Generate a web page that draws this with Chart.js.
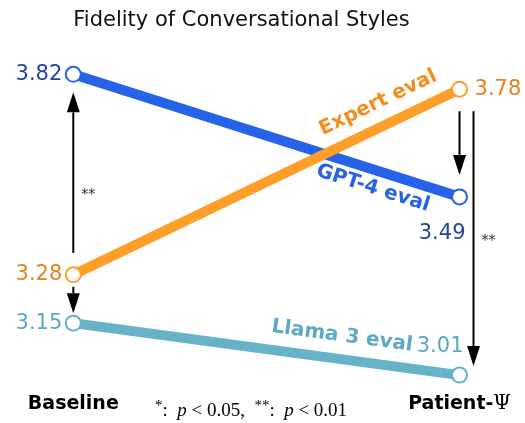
<!DOCTYPE html>
<html lang="en">
<head>
<meta charset="UTF-8">
<title>Fidelity of Conversational Styles</title>
<script src="https://cdn.jsdelivr.net/npm/chart.js"></script>
<style>
    html, body { margin: 0; padding: 0; background: #ffffff; }
</style>
</head>
<body>
<canvas id="chart" width="525" height="423"></canvas>
<script>
    // ---- data ----
    const categories = ['Baseline', 'Patient-Ψ'];
    const seriesNames = ['Expert eval', 'GPT-4 eval', 'Llama 3 eval'];
    const expertScores = [3.28, 3.78];
    const gpt4Scores = [3.82, 3.49];
    const llamaScores = [3.15, 3.01];

    // significance arrows (category index, from value, to value, stars)
    const sigCategory = [0, 0, 1, 1];
    const sigFrom = [3.28, 3.28, 3.78, 3.78];
    const sigTo = [3.82, 3.15, 3.49, 3.01];
    const sigStars = ['**', '', '', '**'];

    // ---- styles ----
    const ORANGE = '#FF9F2A', BLUE = '#2663E8', TEAL = '#67B2C9';
    const lineColors = [ORANGE, BLUE, TEAL];
    const numberColors = ['#E8801C', '#24449C', '#58A8C2'];
    const nameColors = ['#F58D1E', '#2663E8', '#5DAAC4'];
    // where the value labels sit, relative to each point: [align, dx, dy]
    const numberPlace = [
        [['right', -11, 0], ['left', 15, 0]],
        [['right', -11, 0], ['right', 6, 37]],
        [['right', -11, 0], ['right', 4, -29]]
    ];
    // series name along its line: t (0..1 along the line), d (px, + is above)
    const namePlace = [{ t: 0.815, d: 23 }, { t: 0.79, d: -18 }, { t: 0.688, d: 23 }];
    const sigDx = [0, 0, 0, 14];
    const sigStartGap = [22, 12, 22, 22];
    const sigEndGap = [18, 10, 22, 9];
    const sigStarAt = [0.377, 0, 0, 0.5];

    const allSeries = [expertScores, gpt4Scores, llamaScores];

    function toPoints(values) {
        return values.map((v, i) => ({ x: i, y: v }));
    }

    function drawArrow(ctx, x, y0, y1) {
        const dir = y1 > y0 ? 1 : -1;
        const headLen = 20, halfW = 6.5;
        ctx.strokeStyle = '#000';
        ctx.fillStyle = '#000';
        ctx.lineWidth = 2;
        ctx.beginPath();
        ctx.moveTo(x, y0);
        ctx.lineTo(x, y1 - dir * headLen);
        ctx.stroke();
        ctx.beginPath();
        ctx.moveTo(x, y1);
        ctx.lineTo(x - halfW, y1 - dir * headLen);
        ctx.lineTo(x + halfW, y1 - dir * headLen);
        ctx.closePath();
        ctx.fill();
    }

    const annotations = {
        id: 'annotations',
        afterDatasetsDraw(chart) {
            const ctx = chart.ctx;
            const xs = chart.scales.x, ys = chart.scales.y;
            ctx.save();

            // value labels
            ctx.font = '21px "DejaVu Sans"';
            ctx.textBaseline = 'middle';
            allSeries.forEach((vals, s) => {
                vals.forEach((v, i) => {
                    const [align, dx, dy] = numberPlace[s][i];
                    ctx.textAlign = align;
                    ctx.fillStyle = numberColors[s];
                    ctx.fillText(v.toFixed(2), xs.getPixelForValue(i) + dx, ys.getPixelForValue(v) + dy);
                });
            });

            // series names along the lines
            ctx.font = 'bold 20px "DejaVu Sans"';
            ctx.textAlign = 'center';
            allSeries.forEach((vals, s) => {
                const x0 = xs.getPixelForValue(0), y0 = ys.getPixelForValue(vals[0]);
                const x1 = xs.getPixelForValue(1), y1 = ys.getPixelForValue(vals[1]);
                const len = Math.hypot(x1 - x0, y1 - y0);
                const ux = (x1 - x0) / len, uy = (y1 - y0) / len;
                const { t, d } = namePlace[s];
                const cx = x0 + (x1 - x0) * t + uy * d;
                const cy = y0 + (y1 - y0) * t - ux * d;
                ctx.save();
                ctx.translate(cx, cy);
                ctx.rotate(Math.atan2(y1 - y0, x1 - x0));
                ctx.fillStyle = nameColors[s];
                ctx.fillText(seriesNames[s], 0, 0);
                ctx.restore();
            });

            // significance arrows
            sigCategory.forEach((c, k) => {
                const x = xs.getPixelForValue(c) + sigDx[k];
                const yA = ys.getPixelForValue(sigFrom[k]);
                const yB = ys.getPixelForValue(sigTo[k]);
                const dir = yB > yA ? 1 : -1;
                const start = yA + dir * sigStartGap[k];
                const tip = yB - dir * sigEndGap[k];
                drawArrow(ctx, x, start, tip);
                if (sigStars[k]) {
                    ctx.font = '14px "DejaVu Serif"';
                    ctx.fillStyle = '#333';
                    ctx.textAlign = 'left';
                    ctx.textBaseline = 'middle';
                    ctx.fillText(sigStars[k], x + 8, start + (tip - start) * sigStarAt[k] + 3);
                }
            });

            // category labels
            const labelY = chart.chartArea.bottom + 4;
            ctx.fillStyle = '#000';
            ctx.textBaseline = 'middle';
            ctx.textAlign = 'left';
            categories.forEach((name, i) => {
                const cx = xs.getPixelForValue(i);
                const parts = name.endsWith('Ψ') ? [name.slice(0, -1), 'Ψ'] : [name];
                const fonts = ['bold 19px "DejaVu Sans"', '20px "DejaVu Serif"'];
                let total = 0;
                const widths = parts.map((p, j) => {
                    ctx.font = fonts[j];
                    const w = ctx.measureText(p).width;
                    total += w;
                    return w;
                });
                let x = cx - total / 2;
                parts.forEach((p, j) => {
                    ctx.font = fonts[j];
                    ctx.fillText(p, x, labelY);
                    x += widths[j];
                });
            });

            // footnote
            const serif = '"Liberation Serif", "DejaVu Serif", serif';
            const runs = [
                ['*', '15px ' + serif, -5], [':  ', '19px ' + serif, 0], ['p', 'italic 19px ' + serif, 0],
                [' < 0.05,  ', '19px ' + serif, 0],
                ['**', '15px ' + serif, -5], [':  ', '19px ' + serif, 0], ['p', 'italic 19px ' + serif, 0],
                [' < 0.01', '19px ' + serif, 0]
            ];
            let fw = 0;
            runs.forEach(r => { ctx.font = r[1]; fw += ctx.measureText(r[0]).width; });
            let fx = 251 - fw / 2;
            const fy = chart.chartArea.bottom + 11;
            runs.forEach(r => {
                ctx.font = r[1];
                ctx.fillText(r[0], fx, fy + r[2]);
                fx += ctx.measureText(r[0]).width;
            });

            ctx.restore();
        }
    };

    function makeDataset(s, order) {
        return {
            label: seriesNames[s],
            data: toPoints(allSeries[s]),
            borderColor: lineColors[s],
            borderWidth: 10,
            pointRadius: 7.5,
            pointBorderWidth: 2,
            pointBackgroundColor: '#ffffff',
            pointBorderColor: lineColors[s],
            order: order,
            clip: false
        };
    }

    new Chart(document.getElementById('chart').getContext('2d'), {
        type: 'line',
        data: { datasets: [makeDataset(0, 0), makeDataset(1, 1), makeDataset(2, 2)] },
        options: {
            responsive: false,
            animation: false,
            layout: { autoPadding: false, padding: { left: 0, right: 42, top: 0, bottom: 23 } },
            plugins: {
                legend: { display: false },
                tooltip: { enabled: false },
                title: {
                    display: true,
                    text: 'Fidelity of Conversational Styles',
                    color: '#111',
                    font: { family: 'DejaVu Sans', size: 21, weight: 'normal', lineHeight: 1.2 },
                    padding: { top: 8, bottom: 17 }
                }
            },
            scales: {
                x: { type: 'linear', display: false, min: -0.1898, max: 1.0608 },
                y: { display: false, min: 2.943, max: 3.885 }
            }
        },
        plugins: [annotations]
    });
</script>
</body>
</html>
